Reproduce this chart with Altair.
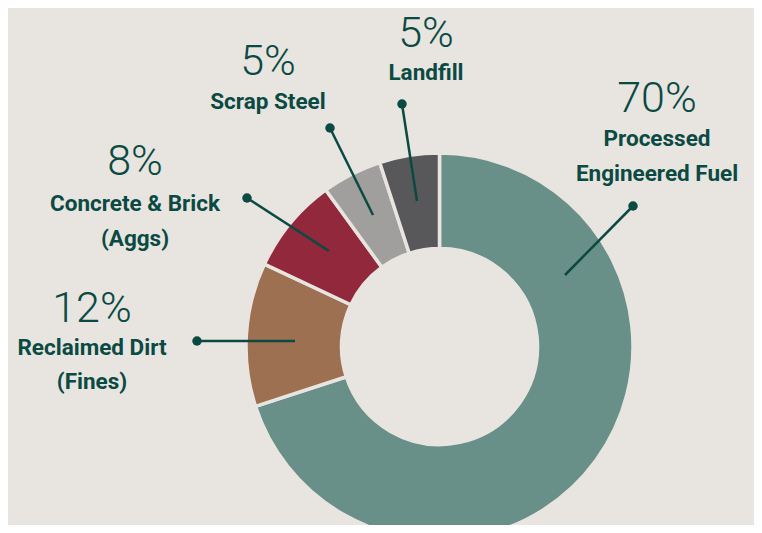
import altair as alt
import pandas as pd

# ---- data ----
categories = ["Processed Engineered Fuel", "Reclaimed Dirt (Fines)",
              "Concrete & Brick (Aggs)", "Scrap Steel", "Landfill"]
shares = [70, 12, 8, 5, 5]
pct_labels = ["70%", "12%", "8%", "5%", "5%"]
name_lines = [["Processed", "Engineered Fuel"], ["Reclaimed Dirt", "(Fines)"],
              ["Concrete & Brick", "(Aggs)"], ["Scrap Steel"], ["Landfill"]]
colors = ["#688f88", "#9e7052", "#92283b", "#a09f9d", "#58585a"]

# ---- annotation layout (page pixel coords) ----
OFF = 8
label_pos = {  # pct (x, baseline), name baselines
    0: ((657, 112), [146, 181]),
    1: ((92, 322), [355, 389]),
    2: ((135, 175), [211, 246]),
    3: ((268, 75), [109]),
    4: ((426, 47), [80]),
}
leaders = {  # dot (x,y) -> end (x,y)
    0: ((633, 206), (565, 275)),
    1: ((197, 341), (295, 341)),
    2: ((247, 198), (329, 251)),
    3: ((330, 128), (373, 215)),
    4: ((402, 104), (417, 201)),
}

BG = "#e8e5e1"
INK = "#0b4a43"
W, H = 746, 517
CX, CY = 439.5 - OFF, 346.5 - OFF
R_OUT, R_IN = 193.5, 98

slices = pd.DataFrame({"category": categories, "share": shares,
                       "order": list(range(len(categories)))})

donut = alt.Chart(slices).mark_arc(
    x=CX, y=CY, outerRadius=R_OUT, innerRadius=R_IN,
    stroke=BG, strokeWidth=3.5
).encode(
    theta=alt.Theta("share:Q", stack=True),
    order=alt.Order("order:Q"),
    color=alt.Color("category:N", scale=alt.Scale(domain=categories, range=colors), legend=None),
)

pct_rows, name_rows, line_rows = [], [], []
for i in range(len(categories)):
    (px, py), nys = label_pos[i]
    pct_rows.append({"t": pct_labels[i], "x": px - OFF, "y": py - OFF})
    for line, ny in zip(name_lines[i], nys):
        name_rows.append({"t": line, "x": px - OFF, "y": ny - OFF})
    (dx, dy), (ex, ey) = leaders[i]
    line_rows.append({"x": dx - OFF, "y": dy - OFF, "x2": ex - OFF, "y2": ey - OFF})

pct_df = pd.DataFrame(pct_rows)
name_df = pd.DataFrame(name_rows)
line_df = pd.DataFrame(line_rows)

pct_text = alt.Chart(pct_df).mark_text(
    font="Roboto", fontSize=43, fontWeight=300, color=INK,
    align="center", baseline="alphabetic"
).encode(x=alt.X("x:Q", scale=None), y=alt.Y("y:Q", scale=None), text="t:N")

name_text = alt.Chart(name_df).mark_text(
    font="Roboto", fontSize=22.5, fontWeight="bold", color=INK,
    align="center", baseline="alphabetic"
).encode(x=alt.X("x:Q", scale=None), y=alt.Y("y:Q", scale=None), text="t:N")

rules = alt.Chart(line_df).mark_rule(color=INK, strokeWidth=2.5).encode(
    x=alt.X("x:Q", scale=None), y=alt.Y("y:Q", scale=None),
    x2="x2:Q", y2="y2:Q")

dots = alt.Chart(line_df).mark_circle(color=INK, opacity=1, size=90).encode(
    x=alt.X("x:Q", scale=None), y=alt.Y("y:Q", scale=None))

chart = alt.layer(donut, rules, dots, pct_text, name_text).properties(
    width=W, height=H, padding=0,
    autosize=alt.AutoSizeParams(type="none"),
    background=BG,
).configure_view(stroke=None)

chart.save("out.html", embed_options={"renderer": "svg", "actions": False})
